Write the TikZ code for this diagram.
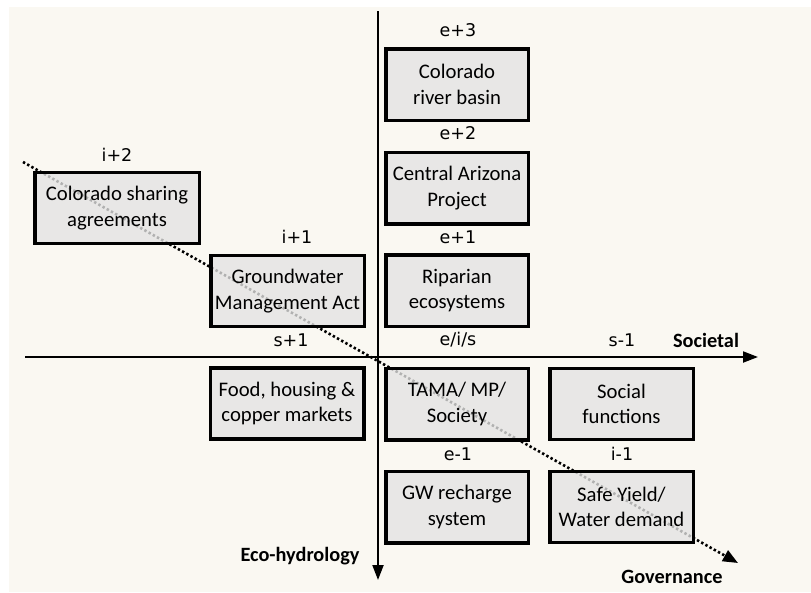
\documentclass[tikz,border=0pt]{standalone}
\usepackage{fontspec}
\setmainfont{Carlito}
\newfontfamily\labelfont{DejaVu Sans}
\usetikzlibrary{arrows.meta}
\definecolor{paper}{HTML}{FAF8F2}
\definecolor{boxfill}{HTML}{E3E3E3}
\begin{document}
\begin{tikzpicture}[x=1pt,y=-1pt,
  cell/.style={draw=black, line width=3.5pt, fill=boxfill, fill opacity=0.78,
    text opacity=1, align=center, inner sep=0pt,
    font=\fontsize{20.7}{25.5}\selectfont},
  w1/.style={minimum width=142.5pt, minimum height=71.5pt},
  w2/.style={minimum width=164.5pt, minimum height=71pt},
  w3/.style={minimum width=153.5pt, minimum height=71pt},
  w4/.style={minimum width=143.5pt, minimum height=71pt},
  tag/.style={font=\labelfont\fontsize{17.5}{20}\selectfont, inner sep=0pt},
  axisname/.style={font=\bfseries\fontsize{20.3}{22}\selectfont, inner sep=0pt},
  axis/.style={line width=2pt, -{Triangle[length=15pt,width=11pt]}},
  trend/.style={line width=2.6pt, dash pattern=on 2.4pt off 2.4pt,
    -{Triangle[length=15pt,width=12pt]}}
]
\useasboundingbox (0,0) rectangle (811,592);
\fill[paper] (9,7) rectangle (811,592);

% axes and the dotted trend line (drawn beneath the boxes)
\coordinate (vtop) at (378,11);
\coordinate (vbot) at (378,580);
\coordinate (hleft) at (25,357);
\coordinate (hright) at (758,357);
\coordinate (dstart) at (23,162);
\coordinate (dend) at (738,563);
\draw[trend] (dstart) -- (dend);

% boxes
\node[cell,w1] (crb)  at (457,84.5)  {Colorado\\river basin};
\node[cell,w1] (cap)  at (457,188)   {Central Arizona\\Project};
\node[cell,w1] (rip)  at (457,290.5) {Riparian\\ecosystems};
\node[cell,w2] (csa)  at (117,208)   {Colorado sharing\\agreements};
\node[cell,w3] (gma)  at (287.5,291) {Groundwater\\Management Act};
\node[cell,w3] (food) at (287,403.5) {Food, housing \&\\copper markets};
\node[cell,w1] (tama) at (457,404)   {TAMA/ MP/\\Society};
\node[cell,w4] (soc)  at (621.5,404) {Social\\functions};
\node[cell,w1] (gw)   at (457,507)   {GW recharge\\system};
\node[cell,w4] (safe) at (621.5,507) {Safe Yield/\\Water demand};

\draw[axis] (vtop) -- (vbot);
\draw[axis] (hleft) -- (hright);

% level labels
\node[tag] (le3)  at (458,30)  {e+3};
\node[tag] (le2)  at (458,133) {e+2};
\node[tag] (le1)  at (458,237) {e+1};
\node[tag] (leis) at (458,340) {e/i/s};
\node[tag] (li2)  at (117,155) {i+2};
\node[tag] (li1)  at (297,237) {i+1};
\node[tag] (ls1)  at (291,340) {s+1};
\node[tag] (lsm)  at (622,340) {s-1};
\node[tag] (lem)  at (458,454) {e-1};
\node[tag] (lim)  at (622,454) {i-1};

% axis names
\node[axisname] (soct) at (706,340) {Societal};
\node[axisname] (eco)  at (300,556) {Eco-hydrology};
\node[axisname] (gov)  at (672,577) {Governance};
\end{tikzpicture}
\end{document}
